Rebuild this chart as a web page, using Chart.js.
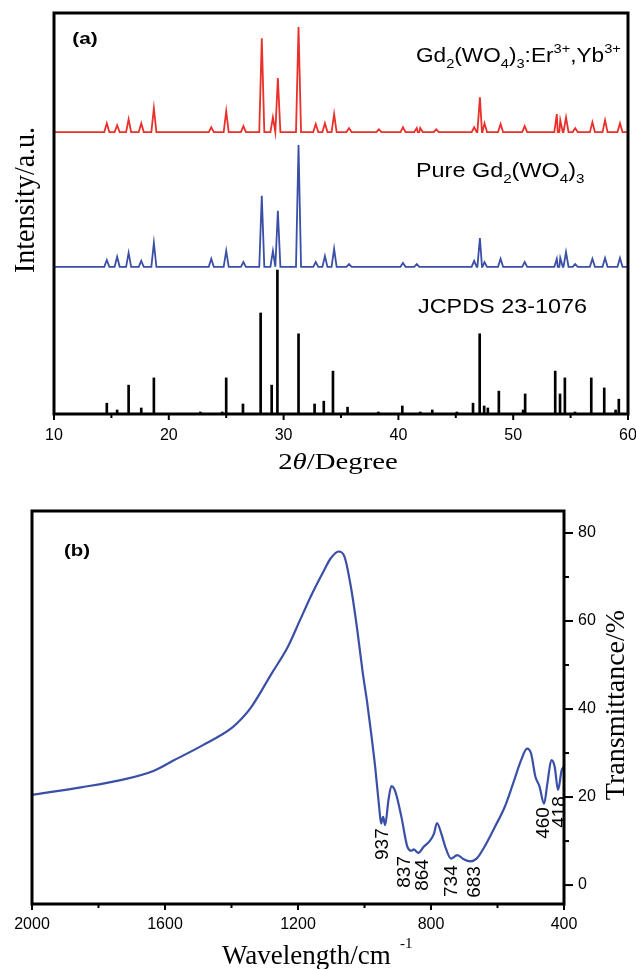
<!DOCTYPE html>
<html>
<head>
<meta charset="utf-8">
<script src="https://cdn.jsdelivr.net/npm/chart.js@4.4.1/dist/chart.umd.min.js"></script>
<style>
  body { margin: 0; background: #fff; }
  #wrap { position: relative; width: 636px; height: 969px; background: #fff; }
  canvas { position: absolute; left: 0; }
  #xrd { top: 0; }
  #ir { top: 490px; }
</style>
</head>
<body>
<div id="wrap">
  <canvas id="xrd" width="636" height="490"></canvas>
  <canvas id="ir" width="636" height="479"></canvas>
</div>
<script>
// ---- (a) XRD datos: posiciones de pico (2θ) y alturas (u.a.)
const dopedPos = [14.6, 15.5, 16.5, 17.6, 18.7, 23.7, 25.0, 26.5, 28.1, 29.07, 29.5, 31.3, 32.8, 33.6, 34.4, 35.7, 38.3, 40.4, 41.6, 41.9, 43.3, 46.6, 47.1, 47.5, 48.9, 51.0, 53.8, 54.1, 54.6, 55.4, 56.9, 58.0, 59.3];
const dopedInt = [2.2, 1.7, 3.2, 2.2, 6.0, 1.2, 5.2, 1.5, 23.4, 3.7, 13.5, 26.2, 2.0, 2.2, 4.5, 1.0, 0.7, 1.2, 1.0, 1.0, 0.7, 1.2, 8.7, 2.2, 2.0, 1.5, 4.5, 3.0, 3.7, 1.0, 2.5, 3.0, 2.2];
const dopedBase = 70.3;

const purePos = [14.6, 15.5, 16.5, 17.6, 18.7, 23.7, 25.0, 26.5, 28.1, 29.07, 29.5, 31.3, 32.8, 33.6, 34.4, 35.7, 40.4, 41.6, 46.6, 47.1, 47.5, 48.9, 51.0, 53.8, 54.1, 54.6, 55.4, 56.9, 58.0, 59.3];
const pureInt = [1.7, 2.5, 3.5, 1.5, 6.0, 2.0, 4.0, 1.2, 17.7, 4.0, 14.0, 30.4, 1.2, 2.7, 4.5, 0.7, 1.0, 0.7, 1.5, 7.2, 1.2, 2.0, 1.2, 2.0, 2.2, 3.7, 0.7, 2.0, 2.2, 2.2];
const pureBase = 36.7;

const jcpdsPos = [14.6, 15.5, 16.5, 17.6, 18.7, 22.75, 24.65, 25.0, 26.46, 28.0, 28.96, 29.46, 31.3, 32.7, 33.5, 34.3, 35.57, 38.25, 40.34, 41.9, 42.95, 45.1, 46.5, 47.08, 47.47, 47.79, 48.75, 50.86, 51.04, 53.66, 54.08, 54.5, 55.38, 56.8, 57.93, 58.92, 59.2];
const jcpdsInt = [2.7, 1.0, 7.2, 1.5, 9.0, 0.5, 0.5, 9.0, 2.5, 25.2, 7.2, 35.9, 20.0, 2.5, 3.2, 10.7, 1.7, 0.5, 2.0, 0.5, 1.0, 0.5, 2.7, 20.0, 2.0, 1.5, 5.7, 1.0, 5.0, 10.7, 5.0, 9.0, 0.5, 9.0, 6.5, 1.0, 3.7];

const xTicksA = [10, 20, 30, 40, 50, 60];
const xMinorA = [15, 25, 35, 45, 55];

// ---- (b) IR datos: número de onda (cm-1) y transmitancia (%)
const irWave = [2000, 1853, 1730, 1633, 1572, 1486, 1401, 1365, 1340, 1279, 1230, 1194, 1157, 1121, 1102, 1078, 1060, 1041, 1023, 1005, 992, 980, 968, 956, 950, 944, 938, 928, 919, 907, 889, 871, 858, 852, 838, 822, 804, 791, 782, 769, 757, 740, 721, 700, 682, 663, 639, 608, 578, 553, 529, 511, 499, 486, 474, 460, 450, 438, 428, 418, 407, 400];
const irTrans = [20.5, 22.2, 23.9, 26.0, 28.4, 31.8, 35.6, 38.2, 40.5, 48.1, 54.2, 60.2, 66.3, 71.6, 74.2, 75.8, 74.6, 67.8, 58.7, 48.1, 41.5, 34.5, 26.9, 17.8, 14.0, 15.5, 13.6, 19.3, 22.5, 21.2, 15.5, 8.7, 7.8, 8.1, 7.3, 8.7, 10, 11.7, 14.1, 11.7, 8.7, 6.0, 6.8, 5.8, 5.4, 6.0, 8.7, 13.2, 17.8, 23.1, 28.4, 31.0, 29.9, 24.6, 22.5, 18.5, 23.1, 28.4, 26.9, 21.6, 26.1, 26.9];

const peakLabels = ["937", "837", "864", "734", "683", "460", "418"];
// ancla de cada etiqueta en coordenadas de datos [cm-1, %]
const peakAnchors = [[944, 9.3], [878, 3.0], [824, 2.3], [737, 0.9], [668, 0.7], [460, 14.1], [412, 16.6]];

const xTicksB = [2000, 1600, 1200, 800, 400];
const xMinorB = [1800, 1400, 1000, 600];
const yTicksB = [0, 20, 40, 60, 80];
const yMinorB = [10, 30, 50, 70];

const RED = "#e9302a";
const BLUE = "#3a4fa6";
const SANS = "'Liberation Sans', Arial, sans-serif";
const SERIF = "'Liberation Serif', 'Times New Roman', serif";

// Construye la traza: cada pico sube desde la línea base y vuelve a ella
function trace(pos, ints, base) {
  const w = 0.22;
  const pts = [{ x: 10, y: base }];
  pos.forEach((p, i) => {
    pts.push({ x: p - w, y: base });
    pts.push({ x: p, y: base + ints[i] });
    pts.push({ x: p + w, y: base });
  });
  pts.push({ x: 60, y: base });
  pts.sort((a, b) => a.x - b.x);
  return pts;
}

// Texto con subíndices / superíndices; parts = [[texto, modo]]
function rich(ctx, x, y, parts, o) {
  const size = o.size, fam = o.family || SANS;
  const fontFor = (m) => {
    const s = m === "sub" || m === "sup" ? size * (o.small || 0.65) : size;
    const st = m === "it" ? "italic " : "";
    const wt = o.bold ? "bold " : "";
    return st + wt + s + "px " + fam;
  };
  ctx.save();
  ctx.translate(x, y);
  if (o.rot) ctx.rotate(o.rot);
  ctx.scale(o.sx || 1, o.sy || 1);
  ctx.fillStyle = "#000";
  ctx.textBaseline = o.baseline || "alphabetic";
  let total = 0;
  parts.forEach(([t, m]) => { ctx.font = fontFor(m); total += ctx.measureText(t).width; });
  let cx = o.align === "center" ? -total / 2 : 0;
  parts.forEach(([t, m]) => {
    ctx.font = fontFor(m);
    let dy = 0;
    if (m === "sub") dy = size * 0.3;
    if (m === "sup") dy = -size * 0.45;
    ctx.fillText(t, cx, dy);
    cx += ctx.measureText(t).width;
  });
  ctx.restore();
}

function ticksX(ctx, sc, vals, y, len) {
  vals.forEach((v) => {
    const px = sc.getPixelForValue(v);
    ctx.beginPath(); ctx.moveTo(px, y); ctx.lineTo(px, y + len); ctx.stroke();
  });
}

// Decoración del panel (a)
const xrdDeco = {
  id: "xrdDeco",
  afterDraw(chart) {
    const ctx = chart.ctx, a = chart.chartArea, sx = chart.scales.x;
    ctx.save();
    ctx.strokeStyle = "#000";
    ctx.lineWidth = 2;
    ticksX(ctx, sx, xTicksA, a.bottom, 6);
    ticksX(ctx, sx, xMinorA, a.bottom, 4);
    ctx.lineWidth = 3;
    ctx.strokeRect(a.left, a.top, a.right - a.left, a.bottom - a.top);
    ctx.fillStyle = "#000";
    ctx.font = "16px " + SANS;
    ctx.textAlign = "center";
    ctx.textBaseline = "middle";
    xTicksA.forEach((v) => ctx.fillText(String(v), sx.getPixelForValue(v), a.bottom + 22));
    ctx.restore();

    rich(ctx, 85, 44, [["(a)", ""]], { size: 16, bold: true, sx: 1.3, align: "center" });
    rich(ctx, 416, 62, [["Gd", ""], ["2", "sub"], ["(WO", ""], ["4", "sub"], [")", ""], ["3", "sub"], [":Er", ""], ["3+", "sup"], [",Yb", ""], ["3+", "sup"]], { size: 20, sx: 1.13 });
    rich(ctx, 416, 177, [["Pure Gd", ""], ["2", "sub"], ["(WO", ""], ["4", "sub"], [")", ""], ["3", "sub"]], { size: 20, sx: 1.17 });
    rich(ctx, 418, 313, [["JCPDS 23-1076", ""]], { size: 20, sx: 1.17 });
    rich(ctx, 338, 469, [["2", ""], ["θ", "it"], ["/Degree", ""]], { size: 24, family: SERIF, sx: 1.2, align: "center" });
    rich(ctx, 26, 200, [["Intensity/a.u.", ""]], { size: 28, family: SERIF, rot: -Math.PI / 2, sy: 1.05, align: "center", baseline: "middle" });
  }
};

// Decoración del panel (b)
const irDeco = {
  id: "irDeco",
  afterDraw(chart) {
    const ctx = chart.ctx, a = chart.chartArea, sx = chart.scales.x, sy = chart.scales.y;
    ctx.save();
    ctx.strokeStyle = "#000";
    ctx.lineWidth = 2;
    ticksX(ctx, sx, xTicksB, a.bottom, 6);
    ticksX(ctx, sx, xMinorB, a.bottom, 4);
    yTicksB.forEach((v) => {
      const py = sy.getPixelForValue(v);
      ctx.beginPath(); ctx.moveTo(a.right, py); ctx.lineTo(a.right + 9, py); ctx.stroke();
    });
    yMinorB.forEach((v) => {
      const py = sy.getPixelForValue(v);
      ctx.beginPath(); ctx.moveTo(a.right, py); ctx.lineTo(a.right + 5, py); ctx.stroke();
    });
    ctx.lineWidth = 3;
    ctx.strokeRect(a.left, a.top, a.right - a.left, a.bottom - a.top);
    ctx.fillStyle = "#000";
    ctx.font = "16px " + SANS;
    ctx.textAlign = "center";
    ctx.textBaseline = "middle";
    xTicksB.forEach((v) => ctx.fillText(String(v), sx.getPixelForValue(v), a.bottom + 21));
    ctx.textAlign = "left";
    yTicksB.forEach((v) => ctx.fillText(String(v), a.right + 14, sy.getPixelForValue(v)));
    ctx.restore();

    peakLabels.forEach((t, i) => {
      const [w, v] = peakAnchors[i];
      rich(ctx, sx.getPixelForValue(w), sy.getPixelForValue(v), [[t, ""]], { size: 19, rot: -Math.PI / 2, align: "center", baseline: "middle" });
    });

    rich(ctx, 77, 61, [["(b)", ""]], { size: 17, bold: true, sx: 1.2, align: "center", baseline: "middle" });
    rich(ctx, 222, 474, [["Wavelength/cm", ""]], { size: 27, family: SERIF });
    rich(ctx, 400, 458, [["-1", ""]], { size: 15, family: SERIF });
    rich(ctx, 617, 215, [["Transmittance/%", ""]], { size: 28, family: SERIF, rot: -Math.PI / 2, align: "center", baseline: "middle" });
  }
};

new Chart(document.getElementById("xrd"), {
  type: "line",
  data: {
    datasets: [
      { label: "Gd2(WO4)3:Er,Yb", data: trace(dopedPos, dopedInt, dopedBase), borderColor: RED, borderWidth: 1.8, pointRadius: 0, tension: 0 },
      { label: "Pure Gd2(WO4)3", data: trace(purePos, pureInt, pureBase), borderColor: BLUE, borderWidth: 1.8, pointRadius: 0, tension: 0 },
      { type: "bar", label: "JCPDS 23-1076", data: jcpdsPos.map((p, i) => ({ x: p, y: jcpdsInt[i] })), backgroundColor: "#000", barThickness: 2 }
    ]
  },
  options: {
    responsive: false,
    animation: false,
    events: [],
    layout: { padding: { left: 54, right: 8, top: 13, bottom: 76 } },
    plugins: { legend: { display: false }, tooltip: { enabled: false } },
    scales: {
      x: { type: "linear", min: 10, max: 60, offset: false, display: false },
      y: { min: 0, max: 100, display: false }
    }
  },
  plugins: [xrdDeco]
});

new Chart(document.getElementById("ir"), {
  type: "line",
  data: {
    datasets: [
      { label: "IR", data: irWave.map((w, i) => ({ x: w, y: irTrans[i] })), borderColor: BLUE, borderWidth: 2.2, pointRadius: 0, cubicInterpolationMode: "monotone" }
    ]
  },
  options: {
    responsive: false,
    animation: false,
    events: [],
    layout: { padding: { left: 32, right: 72, top: 21, bottom: 65 } },
    plugins: { legend: { display: false }, tooltip: { enabled: false } },
    scales: {
      x: { type: "linear", min: 400, max: 2000, reverse: true, display: false },
      y: { min: -4.3, max: 85, display: false }
    }
  },
  plugins: [irDeco]
});
</script>
</body>
</html>
